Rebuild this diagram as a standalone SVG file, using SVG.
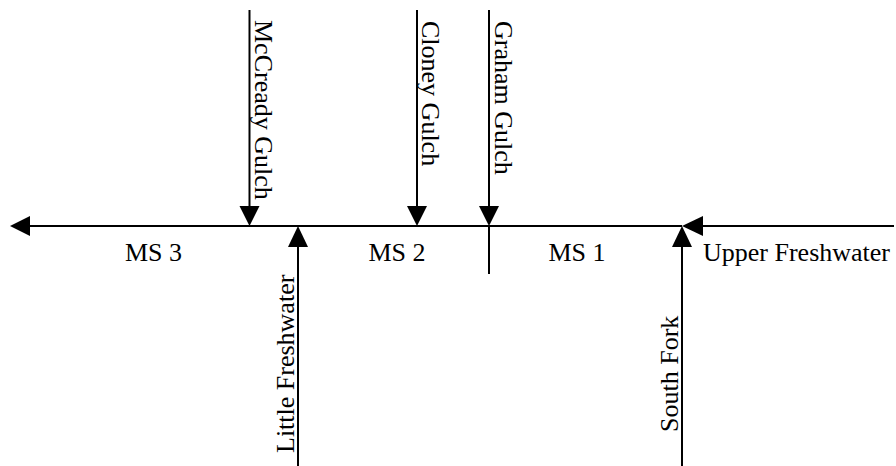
<svg xmlns="http://www.w3.org/2000/svg" width="896" height="466" viewBox="0 0 896 466">
<style>
  .ln { stroke: #000; stroke-width: 2; fill: none; }
  .ah { fill: #000; }
  text { font-family: "Liberation Serif", "Times New Roman", serif; font-size: 26px; fill: #000; }
</style>
<rect width="896" height="466" fill="#fff"/>
<g id="connectors">
  <!-- main stem -->
  <line class="ln" x1="28" y1="226" x2="682" y2="226"/>
  <polygon class="ah" points="10,226 30,216 30,236"/>
  <!-- Upper Freshwater inflow -->
  <line class="ln" x1="700" y1="226" x2="894" y2="226"/>
  <polygon class="ah" points="682,226 703,216 703,236"/>
  <!-- McCready Gulch -->
  <line class="ln" x1="249.5" y1="10" x2="249.5" y2="208"/>
  <polygon class="ah" points="249.5,226 239.5,206 259.5,206"/>
  <!-- Cloney Gulch -->
  <line class="ln" x1="417" y1="10" x2="417" y2="208"/>
  <polygon class="ah" points="417,226 407,206 427,206"/>
  <!-- Graham Gulch -->
  <line class="ln" x1="489" y1="10" x2="489" y2="208"/>
  <polygon class="ah" points="489,226 479,206 499,206"/>
  <line class="ln" x1="489" y1="226" x2="489" y2="274"/>
  <!-- Little Freshwater -->
  <line class="ln" x1="298" y1="244" x2="298" y2="466"/>
  <polygon class="ah" points="298,226 288,247 308,247"/>
  <!-- South Fork -->
  <line class="ln" x1="682" y1="244" x2="682" y2="466"/>
  <polygon class="ah" points="682,226 672,247 692,247"/>
</g>
<g id="ms3"><text x="153.5" y="261" text-anchor="middle">MS 3</text></g>
<g id="ms2"><text x="397" y="261" text-anchor="middle">MS 2</text></g>
<g id="ms1"><text x="577" y="261" text-anchor="middle">MS 1</text></g>
<g id="upper-freshwater"><text x="703" y="261">Upper Freshwater</text></g>
<g id="mccready-gulch"><text transform="translate(254.5,20) rotate(90)">McCready Gulch</text></g>
<g id="cloney-gulch"><text transform="translate(422,21) rotate(90)">Cloney Gulch</text></g>
<g id="graham-gulch"><text transform="translate(494.5,21) rotate(90)">Graham Gulch</text></g>
<g id="little-freshwater"><text transform="translate(293.5,453) rotate(-90)">Little Freshwater</text></g>
<g id="south-fork"><text transform="translate(678,432) rotate(-90)">South Fork</text></g>
</svg>
